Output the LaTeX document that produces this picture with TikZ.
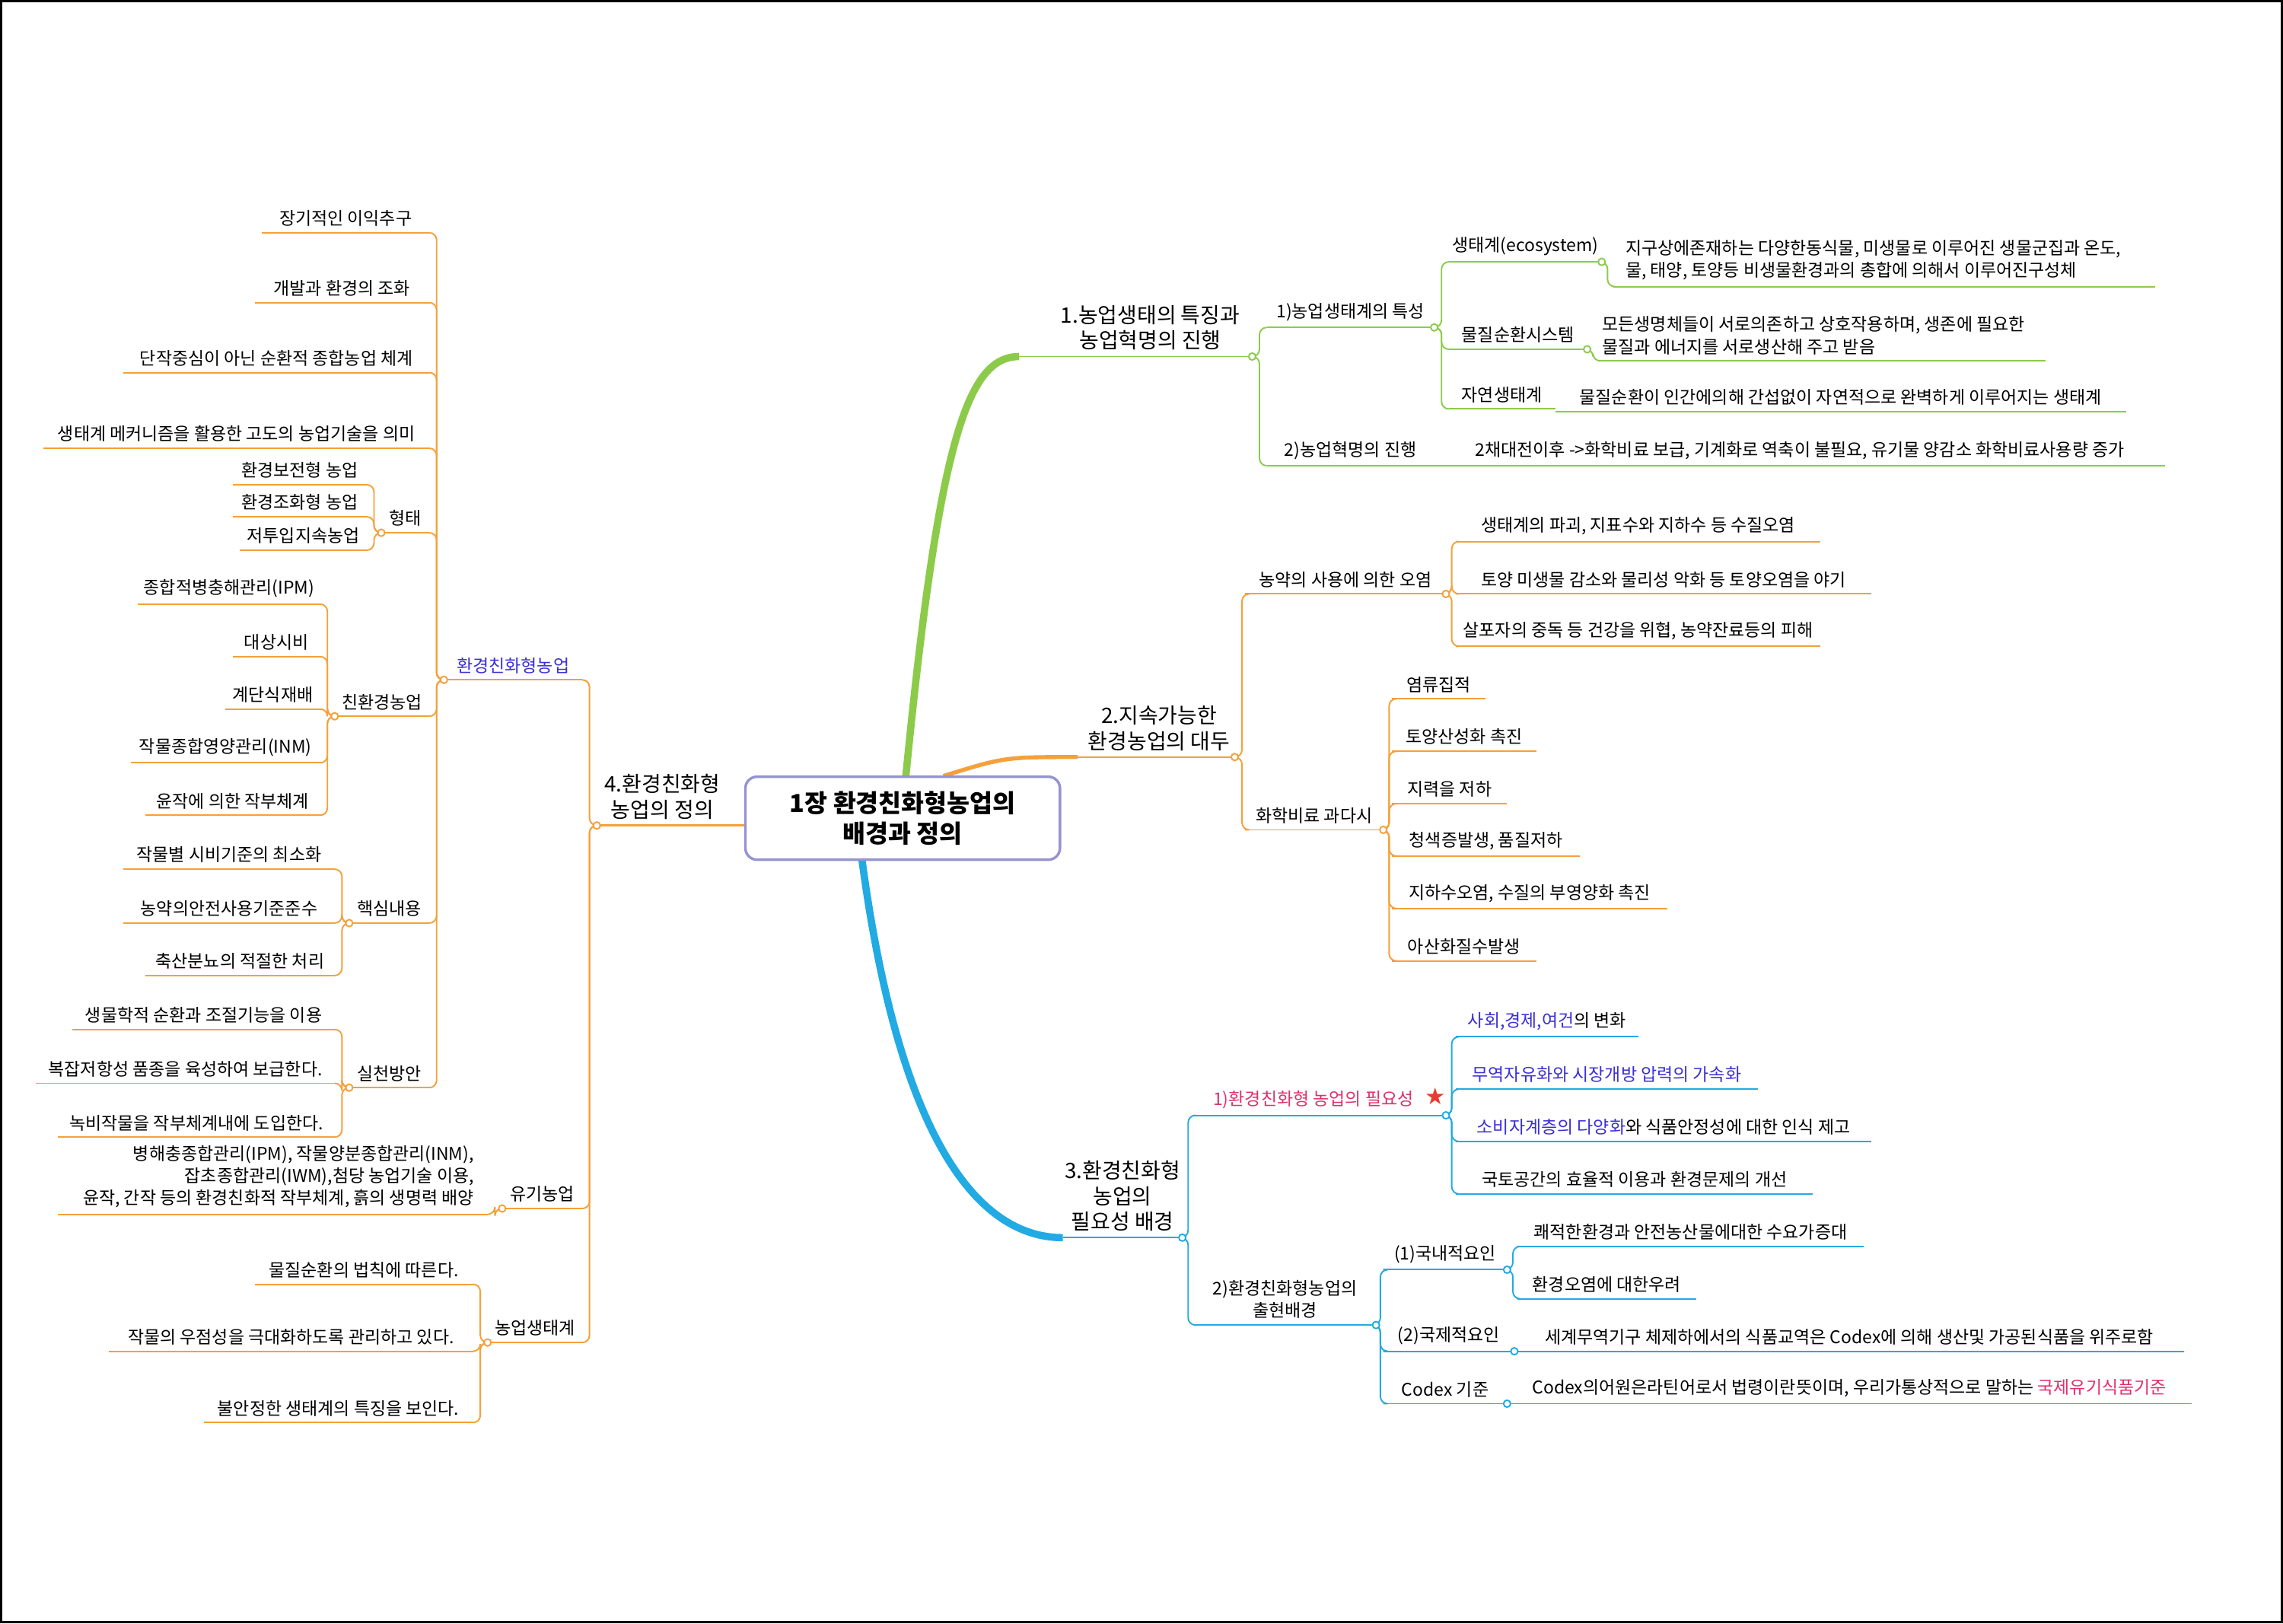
\documentclass[tikz,border=0pt]{standalone}
\usepackage{fontspec}
\setmainfont{Noto Sans CJK KR}
\newfontfamily\symf{DejaVu Sans}
\definecolor{gr}{HTML}{8CCB4A}
\definecolor{org}{HTML}{F5A03A}
\definecolor{bl}{HTML}{22AAE3}
\definecolor{btx}{HTML}{3B2FD6}
\definecolor{ptx}{HTML}{E0306A}
\tikzset{txt/.style={font=\fontsize{6}{7.6}\selectfont,inner sep=1pt,inner ysep=2pt,align=center},
 big/.style={font=\fontsize{7.3}{8.8}\selectfont},
 lk/.style={line width=0.5pt}}
\newcommand\lf[6]{\draw[lk,#5] (#2,#4) -- (#3,#4);
 \node[txt,anchor=south] (#1) at ({(#2+#3)/2},#4) {#6};}
\newcommand\cn[6]{\draw[lk,#6,rounded corners=2.5pt] (#1,#2) -- ++(#5,0) |- (#3,#4);}
\newcommand\dt[3]{\draw[lk,#3,fill=white] (#1,#2) circle[radius=1.2pt];}
\begin{document}
\begin{tikzpicture}[x=0.5pt,y=-0.5pt]
\draw[black,line width=0.8pt,fill=white] (1,1) rectangle (1567,1114);
% ---- branch 1 green
\draw[gr,line width=2.5pt] (622,535) .. controls (645,300) and (665,245) .. (700,245);
\draw[lk,gr] (700,245) -- (860,245);
\node[txt,big,anchor=south] (b1) at (790,245) {1.농업생태의 특징과\\농업혁명의 진행};
\cn{860}{245}{870}{225}{5}{gr}\cn{860}{245}{870}{320}{5}{gr}
\lf{b11}{870}{985}{225}{gr}{1)농업생태계의 특성}
\lf{b12}{870}{985}{320}{gr}{2)농업혁명의 진행}
\cn{985}{225}{995}{180}{5}{gr}\cn{985}{225}{995}{240}{5}{gr}\cn{985}{225}{995}{281}{5}{gr}
\lf{c1}{995}{1100}{180}{gr}{생태계(ecosystem)}
\lf{c2}{995}{1090}{240}{gr}{물질순환시스템}
\lf{c3}{995}{1068}{281}{gr}{자연생태계}
\cn{1100}{180}{1108}{197}{4}{gr}
\draw[lk,gr] (1108,197) -- (1480,197);
\node[txt,anchor=south west,align=left] (d1) at (1114,197) {지구상에존재하는 다양한동식물, 미생물로 이루어진 생물군집과 온도,\\물, 태양, 토양등 비생물환경과의 총합에 의해서 이루어진구성체};
\cn{1090}{240}{1098}{248}{4}{gr}
\draw[lk,gr] (1098,248) -- (1405,248);
\node[txt,anchor=south west,align=left] (d2) at (1098,248) {모든생명체들이 서로의존하고 상호작용하며, 생존에 필요한\\물질과 에너지를 서로생산해 주고 받음};
\lf{d3}{1068}{1460}{283}{gr}{물질순환이 인간에의해 간섭없이 자연적으로 완벽하게 이루어지는 생태계}
\lf{d4}{985}{1487}{320}{gr}{2채대전이후 ->화학비료 보급, 기계화로 역축이 불필요, 유기물 양감소 화학비료사용량 증가}
\dt{860}{245}{gr}\dt{985}{225}{gr}\dt{1100}{180}{gr}\dt{1090}{240}{gr}
% ---- branch 2 orange
\draw[org,line width=1.4pt] (648,533) .. controls (690,520) .. (740,520);
\draw[lk,org] (740,520) -- (848,520);
\node[txt,big,anchor=south] (b2) at (796,520) {2.지속가능한\\환경농업의 대두};
\cn{848}{520}{855}{408}{5}{org}\cn{848}{520}{855}{570}{5}{org}
\lf{e1}{855}{993}{408}{org}{농약의 사용에 의한 오염}
\lf{e2}{855}{950}{570}{org}{화학비료 과다시}
\cn{993}{408}{1000}{372}{4}{org}\cn{993}{408}{1000}{408}{4}{org}\cn{993}{408}{1000}{444}{4}{org}
\lf{f1}{1000}{1250}{372}{org}{생태계의 파괴, 지표수와 지하수 등 수질오염}
\lf{f2}{1000}{1285}{408}{org}{토양 미생물 감소와 물리성 악화 등 토양오염을 야기}
\lf{f3}{1000}{1250}{444}{org}{살포자의 중독 등 건강을 위협, 농약잔료등의 피해}
\foreach \yy in {480,516,552,588,624,660}{\cn{950}{570}{956}{\yy}{4}{org}}
\lf{g1}{956}{1020}{480}{org}{염류집적}
\lf{g2}{956}{1055}{516}{org}{토양산성화 촉진}
\lf{g3}{956}{1035}{552}{org}{지력을 저하}
\lf{g4}{956}{1085}{588}{org}{청색증발생, 품질저하}
\lf{g5}{956}{1145}{624}{org}{지하수오염, 수질의 부영양화 촉진}
\lf{g6}{956}{1055}{660}{org}{아산화질수발생}
\dt{848}{520}{org}\dt{993}{408}{org}\dt{950}{570}{org}
% ---- branch 3 blue
\draw[bl,line width=2.5pt] (592,590) .. controls (620,800) and (680,850) .. (730,850);
\draw[lk,bl] (730,850) -- (812,850);
\node[txt,big,anchor=south] (b3) at (771,850) {3.환경친화형\\농업의\\필요성 배경};
\cn{812}{850}{820}{766}{4}{bl}\cn{812}{850}{820}{910}{4}{bl}
\draw[lk,bl] (820,766) -- (993,766);
\node[txt,anchor=south,text=ptx] (h1) at (902,766) {1)환경친화형 농업의 필요성};
\node[inner sep=0pt,text={rgb,255:red,230;green,60;blue,50},font=\symf\fontsize{8}{8}\selectfont] (star) at (986,753) {★};
\lf{h2}{820}{945}{910}{bl}{2)환경친화형농업의\\출현배경}
\foreach \yy in {712,748,784,820}{\cn{993}{766}{1000}{\yy}{4}{bl}}
\lf{i1}{1000}{1125}{712}{bl}{\textcolor{btx}{사회,경제,여건}의 변화}
\lf{i2}{1000}{1207}{748}{bl}{\textcolor{btx}{무역자유화와 시장개방 압력의 가속화}}
\lf{i3}{1000}{1285}{784}{bl}{\textcolor{btx}{소비자계층의 다양화}와 식품안정성에 대한 인식 제고}
\lf{i4}{1000}{1245}{820}{bl}{국토공간의 효율적 이용과 환경문제의 개선}
\foreach \yy in {872,928,964}{\cn{945}{910}{950}{\yy}{3}{bl}}
\lf{j1}{950}{1035}{872}{bl}{(1)국내적요인}
\lf{j2}{950}{1040}{928}{bl}{(2)국제적요인}
\lf{j3}{950}{1035}{964}{bl}{Codex 기준}
\cn{1035}{872}{1042}{856}{4}{bl}\cn{1035}{872}{1042}{892}{4}{bl}
\lf{k1}{1042}{1280}{856}{bl}{쾌적한환경과 안전농산물에대한 수요가증대}
\lf{k2}{1042}{1165}{892}{bl}{환경오염에 대한우려}
\lf{k3}{1040}{1500}{928}{bl}{세계무역기구 체제하에서의 식품교역은 Codex에 의해 생산및 가공된식품을 위주로함}
\lf{k4}{1035}{1505}{964}{bl}{Codex의어원은라틴어로서 법령이란뜻이며, 우리가통상적으로 말하는 \textcolor{ptx}{국제유기식품기준}}
\dt{812}{850}{bl}\dt{993}{766}{bl}\dt{945}{910}{bl}\dt{1035}{872}{bl}\dt{1040}{928}{bl}\dt{1035}{964}{bl}
% ---- branch 4 orange (left)
\draw[org,line width=0.8pt] (512,567) -- (410,567);
\node[txt,big,anchor=south] (b4) at (455,567) {4.환경친화형\\농업의 정의};
\cn{410}{567}{400}{467}{-5}{org}\cn{410}{567}{400}{830}{-5}{org}\cn{410}{567}{400}{922}{-5}{org}
\lf{m1}{305}{400}{467}{org}{\textcolor{btx}{환경친화형농업}}
\lf{m2}{345}{400}{830}{org}{유기농업}
\lf{m3}{335}{400}{922}{org}{농업생태계}
\foreach \yy in {160,208,256,308,366,492,634,747}{\cn{305}{467}{295}{\yy}{-5}{org}}
\lf{n1}{180}{295}{160}{org}{장기적인 이익추구}
\lf{n2}{175}{295}{208}{org}{개발과 환경의 조화}
\lf{n3}{85}{295}{256}{org}{단작중심이 아닌 순환적 종합농업 체계}
\lf{n4}{30}{295}{308}{org}{생태계 메커니즘을 활용한 고도의 농업기술을 의미}
\lf{n5}{262}{295}{366}{org}{형태}
\lf{n6}{230}{295}{492}{org}{친환경농업}
\lf{n7}{240}{295}{634}{org}{핵심내용}
\lf{n8}{240}{295}{747}{org}{실천방안}
\foreach \yy in {333,355,378}{\cn{262}{366}{252}{\yy}{-5}{org}}
\lf{o1}{160}{252}{333}{org}{환경보전형 농업}
\lf{o2}{160}{252}{355}{org}{환경조화형 농업}
\lf{o3}{165}{252}{378}{org}{저투입지속농업}
\foreach \yy in {415,451,487,524,560}{\cn{230}{492}{220}{\yy}{-5}{org}}
\lf{p1}{95}{220}{415}{org}{종합적병충해관리(IPM)}
\lf{p2}{160}{220}{451}{org}{대상시비}
\lf{p3}{155}{220}{487}{org}{계단식재배}
\lf{p4}{90}{220}{524}{org}{작물종합영양관리(INM)}
\lf{p5}{100}{220}{560}{org}{윤작에 의한 작부체계}
\foreach \yy in {597,634,670}{\cn{240}{634}{230}{\yy}{-5}{org}}
\lf{q1}{85}{230}{597}{org}{작물별 시비기준의 최소화}
\lf{q2}{85}{230}{634}{org}{농약의안전사용기준준수}
\lf{q3}{100}{230}{670}{org}{축산분뇨의 적절한 처리}
\foreach \yy in {707,744,781}{\cn{240}{747}{230}{\yy}{-5}{org}}
\lf{r1}{50}{230}{707}{org}{생물학적 순환과 조절기능을 이용}
\lf{r2}{25}{230}{744}{org}{복잡저항성 품종을 육성하여 보급한다.}
\lf{r3}{40}{230}{781}{org}{녹비작물을 작부체계내에 도입한다.}
\cn{345}{830}{335}{834}{-5}{org}
\draw[lk,org] (40,834) -- (335,834);
\node[txt,anchor=south east,align=right] (s1) at (328,834) {병해충종합관리(IPM), 작물양분종합관리(INM),\\잡초종합관리(IWM),첨당 농업기술 이용,\\윤작, 간작 등의 환경친화적 작부체계, 흙의 생명력 배양};
\foreach \yy in {882,928,977}{\cn{335}{922}{325}{\yy}{-5}{org}}
\lf{t1}{175}{325}{882}{org}{물질순환의 법칙에 따른다.}
\lf{t2}{75}{325}{928}{org}{작물의 우점성을 극대화하도록 관리하고 있다.}
\lf{t3}{140}{325}{977}{org}{불안정한 생태계의 특징을 보인다.}
\dt{410}{567}{org}\dt{305}{467}{org}\dt{262}{366}{org}\dt{230}{492}{org}\dt{240}{634}{org}\dt{240}{747}{org}\dt{345}{830}{org}\dt{335}{922}{org}
% ---- center
\node[draw=gray!60!blue!60,line width=0.9pt,fill=white,rounded corners=4pt,minimum width=108pt,minimum height=28.5pt,align=center,font=\bfseries\fontsize{8.5}{10.5}\selectfont] (ctr) at (620,562) {1장 환경친화형농업의\\배경과 정의};
\end{tikzpicture}
\end{document}
